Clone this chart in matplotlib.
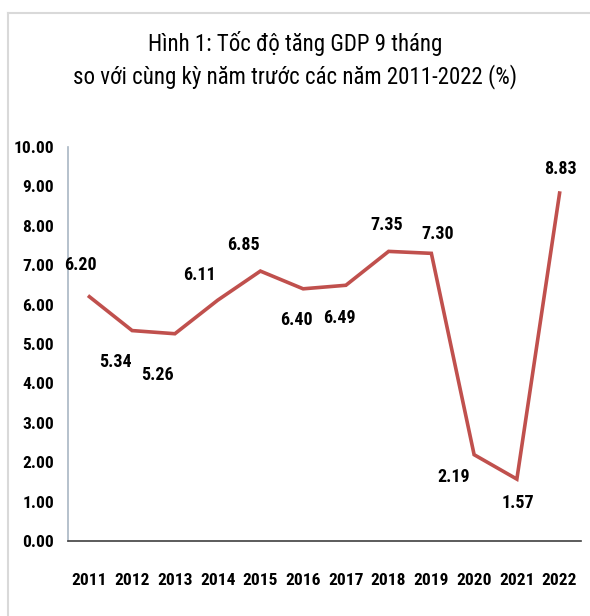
import matplotlib
matplotlib.use("Agg")
import matplotlib.pyplot as plt
from matplotlib.lines import Line2D

YEARS = ["2011", "2012", "2013", "2014", "2015", "2016",
         "2017", "2018", "2019", "2020", "2021", "2022"]
GROWTH = [6.20, 5.34, 5.26, 6.11, 6.85, 6.40, 6.49, 7.35, 7.30, 2.19, 1.57, 8.83]
Y_TICKS = [0, 1, 2, 3, 4, 5, 6, 7, 8, 9, 10]
TITLE = "Hình 1: Tốc độ tăng GDP 9 tháng\nso với cùng kỳ năm trước các năm 2011-2022 (%)"

# label offsets in pixels (dx, dy) relative to each point
LABEL_OFFSETS = [(-9, 32), (-17, -31), (-17, -41), (-18, 25), (-17, 26), (-7, -31),
                 (-6, -33), (-2, 26), (6, 19), (-20, -22), (1, -24), (1, 24)]

FONT = ["Roboto Condensed", "Archivo Narrow", "PT Sans Narrow", "DejaVu Sans"]
LINE_COLOR = "#C0504D"


def main():
    plt.rcParams["font.family"] = FONT
    fig = plt.figure(figsize=(5.9, 6.16), dpi=100)
    ax = fig.add_axes([0.1153, 0.1218, 0.8694, 0.6396])

    x = list(range(len(YEARS)))
    ax.plot(x, GROWTH, color=LINE_COLOR, linewidth=2.6, solid_joinstyle="miter")

    for xi, val, (dx, dy) in zip(x, GROWTH, LABEL_OFFSETS):
        ax.annotate(f"{val:.2f}", (xi, val), xytext=(dx, dy), textcoords="offset pixels",
                    ha="center", va="center", fontsize=13, fontweight="bold")

    ax.set_xlim(-0.5, len(YEARS) - 0.5)
    ax.set_ylim(0, 10)
    ax.set_xticks(x)
    ax.set_xticklabels(YEARS)
    ax.set_yticks(Y_TICKS)
    ax.set_yticklabels([f"{t:.2f}" for t in Y_TICKS])
    ax.tick_params(length=0, labelsize=12.5)
    ax.tick_params(axis="y", pad=10)
    ax.tick_params(axis="x", pad=23)
    for lbl in ax.get_xticklabels() + ax.get_yticklabels():
        lbl.set_fontweight("bold")

    ax.spines["top"].set_visible(False)
    ax.spines["right"].set_visible(False)
    ax.spines["left"].set_color("#A9B6C4")
    ax.spines["left"].set_linewidth(1.2)
    ax.spines["bottom"].set_color("#404040")
    ax.spines["bottom"].set_linewidth(1.2)

    fig.text(0.5, 1 - 60 / 616, TITLE, ha="center", va="center", fontsize=16.5, linespacing=1.45)

    # outer frame (top and left edges visible)
    fig.add_artist(Line2D([8 / 590, 1], [1 - 13 / 616] * 2, color="#D9D9D9", linewidth=1.5,
                          transform=fig.transFigure))
    fig.add_artist(Line2D([8 / 590] * 2, [0, 1 - 13 / 616], color="#D9D9D9", linewidth=1.5,
                          transform=fig.transFigure))

    fig.savefig("out.png", dpi=100)
    plt.close(fig)


if __name__ == "__main__":
    main()
